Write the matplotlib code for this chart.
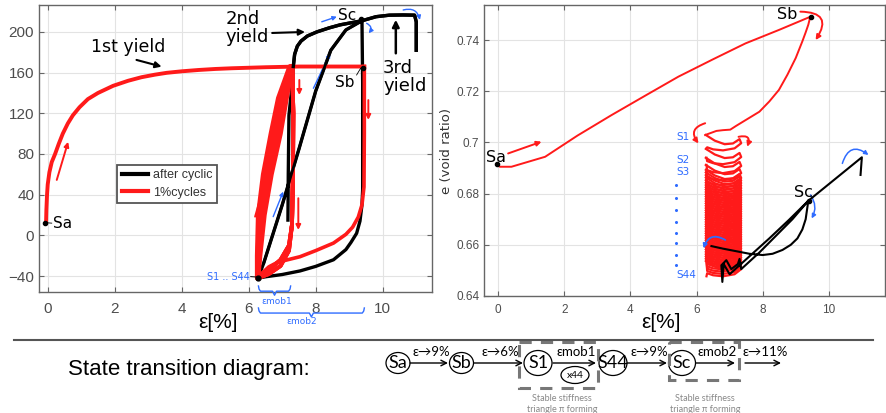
import numpy as np
import matplotlib.pyplot as plt
from matplotlib.patches import Ellipse, Rectangle

# ---------- left panel: deviator stress q vs axial strain ----------
first_eps = [-0.05, -0.04, -0.02, 0.0, 0.05, 0.12, 0.22, 0.33, 0.45, 0.6, 0.75, 0.95, 1.2, 1.5,
             1.95, 2.4, 2.8, 3.2, 3.55, 4.0, 4.5, 5.0, 5.5, 6.5, 7.5, 8.5, 9.45]
first_q = [12, 25, 40, 50, 62, 72, 80, 90, 100, 110, 118, 126, 134, 140,
           147, 152, 155.5, 158, 159.8, 161.3, 162.6, 163.6, 164.3, 165.3, 166, 166, 166]

unload_b_eps = [9.45, 9.45, 9.44, 9.38, 9.27, 9.1, 8.9, 8.53, 8.0, 7.53, 7.1, 6.83, 6.6, 6.4, 6.28]
unload_b_q = [166, 100, 47.6, 30, 18, 8, 1, -7.6, -15, -21, -24.5, -27, -31, -37, -42]

# 1% cycles: loading branches at fixed q levels, unloading branches
cyc_q_up = [-42, -20, 20, 60, 100, 135, 166]
cyc_eps_up = [
    [6.25, 6.25, 6.28, 6.43, 6.66, 6.88, 7.22],
    [6.26, 6.27, 6.31, 6.48, 6.72, 6.93, 7.24],
    [6.26, 6.28, 6.35, 6.53, 6.78, 6.98, 7.25],
    [6.27, 6.30, 6.39, 6.58, 6.84, 7.03, 7.27],
    [6.27, 6.32, 6.43, 6.63, 6.90, 7.08, 7.28],
    [6.28, 6.34, 6.47, 6.68, 6.95, 7.13, 7.30],
]
cyc_q_down = [
    [166, 120, 60, 10, -15, -30, -38, -42],
    [166, 120, 60, 10, -10, -24, -34, -42],
]
cyc_eps_down = [7.30, 7.33, 7.32, 7.29, 7.20, 6.95, 6.60, 6.27]

after_eps = [7.17, 7.18, 7.20, 7.30, 7.33, 7.37, 7.45, 7.56, 7.75, 8.03, 8.40, 8.73, 9.05, 9.38,
             9.40, 9.40, 9.38, 9.32, 9.22, 9.05, 8.90, 8.53, 8.00, 7.53, 7.00, 6.53, 6.28,
             6.45, 7.00, 7.50, 8.00, 8.45, 8.90, 9.38, 9.80, 10.2, 10.6, 10.95, 11.0, 11.0]
after_q = [15, 60, 118, 150, 166, 178, 186, 191, 196, 200, 204, 207, 209, 211,
           150, 45, 30, 14, 2, -7, -14, -24, -30.5, -35, -38.5, -40.6, -42,
           -27, 30, 85, 142, 182, 202, 211, 215, 216.5, 216.7, 216.5, 210, 182]

# ---------- right panel: void ratio e vs axial strain ----------
e_path_eps = [-0.05, 0.05, 0.4, 1.42, 2.4, 3.43, 4.45, 5.45, 6.5, 7.48, 8.5, 9.44,
              9.38, 9.3, 9.2, 9.0, 8.75, 8.49, 8.2, 7.9, 7.48, 7.2, 7.02, 6.8, 6.6, 6.26]
e_path = [0.6914, 0.6905, 0.6905, 0.6944, 0.7027, 0.7107, 0.7183, 0.7257, 0.7325, 0.7387, 0.7440, 0.7491,
          0.7460, 0.7430, 0.7395, 0.7330, 0.7265, 0.7205, 0.7160, 0.7120, 0.7087, 0.7065, 0.7050,
          0.7048, 0.7045, 0.7029]

# void ratio at the start of each of the 44 cycles
cycle_top_e = [0.7029, 0.6975, 0.6940, 0.6912,
               0.6893, 0.6883, 0.6873, 0.6863, 0.6853, 0.6843, 0.6834, 0.6825, 0.6816, 0.6807,
               0.6798, 0.6789, 0.6780, 0.6771, 0.6762, 0.6753, 0.6744, 0.6735, 0.6726, 0.6717,
               0.6708, 0.6699, 0.6690, 0.6681, 0.6672, 0.6663, 0.6654, 0.6645, 0.6636, 0.6627,
               0.6618, 0.6609, 0.6600, 0.6591, 0.6582, 0.6573, 0.6564, 0.6555, 0.6546, 0.6537]
cycle_eps = [6.28, 6.55, 6.85, 7.10, 7.30, 7.35, 7.15, 6.80, 6.50, 6.32]
cycle_de = [0.0, -0.0022, -0.0036, -0.0033, -0.0016, -0.0032, -0.0052, -0.0060, -0.0056, -0.0048]

after_e_eps = [6.45, 6.8, 7.2, 7.6, 8.0, 8.3, 8.6, 8.85, 9.05, 9.2, 9.3, 9.38, 8.8, 8.2, 7.6, 7.0,
               6.82, 6.78, 6.75, 6.9, 7.05, 7.25, 7.3, 7.35, 7.9, 8.4, 8.9, 9.38, 10.2, 11.0, 10.96]
after_e = [0.6595, 0.6585, 0.6575, 0.6565, 0.6560, 0.6565, 0.6580, 0.6600, 0.6625, 0.6660,
           0.6700, 0.6772, 0.6698, 0.6625, 0.6555, 0.6485, 0.6525, 0.6455, 0.6520, 0.6540,
           0.6505, 0.6525, 0.6545, 0.6505, 0.6570, 0.6635, 0.6700, 0.6772, 0.6858, 0.6942, 0.6873]

s_labels = ['S1', 'S2', 'S3', 'S44']
s_label_e = [0.7023, 0.6931, 0.6886, 0.6482]
s_dots_e = [0.6834, 0.6783, 0.6736, 0.6689, 0.6646, 0.6607, 0.6560, 0.6521]

RED = '#ff1a1a'
BLUE = '#2f6cff'
GRAY = '#4d4d4d'

fig = plt.figure(figsize=(8.86, 4.13), dpi=100)
W, H = 886.0, 413.0


def style_axes(ax, fs):
    ax.grid(True, color='#e3e3e3', lw=0.8)
    ax.set_axisbelow(True)
    for s in ax.spines.values():
        s.set_color('#666666')
        s.set_linewidth(1.0)
    ax.tick_params(direction='in', top=True, right=True, length=3.5, width=0.8,
                   color='#666666', labelcolor=GRAY, labelsize=fs)
    for lab in ax.get_xticklabels() + ax.get_yticklabels():
        lab.set_fontfamily('Liberation Sans')


def arrow(ax, p0, p1, color, lw=1.3, rad=0.0, style='-|>', ms=8, clip=True):
    a = ax.annotate('', xy=p1, xytext=p0,
                    arrowprops=dict(arrowstyle=style, color=color, lw=lw, mutation_scale=ms,
                                    shrinkA=0, shrinkB=0,
                                    connectionstyle='arc3,rad=%g' % rad))
    a.set_clip_on(clip)
    return a


# ================= left panel =================
ax1 = fig.add_axes([39 / W, 1 - 292 / H, 393 / W, 287 / H])
ax1.set_xlim(-0.26, 11.47)
ax1.set_ylim(-55.7, 226.5)
ax1.set_xticks([0, 2, 4, 6, 8, 10])
ax1.set_yticks([-40, 0, 40, 80, 120, 160, 200])
ax1.tick_params(axis='x', pad=7)
style_axes(ax1, 11)

ax1.plot(after_eps, after_q, color='black', lw=2.4, zorder=3, label='after cyclic')
ax1.plot(first_eps, first_q, color=RED, lw=2.8, zorder=4, label='1%cycles')
ax1.plot(unload_b_eps, unload_b_q, color=RED, lw=2.6, zorder=4)
# the loading branches of the cycles overlap into a solid band
ax1.fill_betweenx(cyc_q_up, cyc_eps_up[0], cyc_eps_up[-1], color=RED, lw=0, zorder=4)
for k, up in enumerate(cyc_eps_up):
    ax1.plot(up, cyc_q_up, color=RED, lw=3.2, zorder=4, solid_capstyle='round',
             solid_joinstyle='round')
    ax1.plot(cyc_eps_down, cyc_q_down[k % 2], color=RED, lw=2.8, zorder=4, solid_joinstyle='round')
# the black reload and yield branches stay visible over the cycles
ax1.plot(after_eps[27:34], after_q[27:34], color='black', lw=2.0, zorder=5)
ax1.plot(after_eps[4:14], after_q[4:14], color='black', lw=2.4, zorder=5)
ax1.plot(after_eps[33:], after_q[33:], color='black', lw=2.4, zorder=5)

leg = ax1.legend(loc='lower left', bbox_to_anchor=(0.199, 0.31), fancybox=False,
                 framealpha=1, edgecolor='#555555', handlelength=2.1, borderpad=0.35,
                 labelspacing=0.45, handletextpad=0.4, borderaxespad=0,
                 prop={'family': 'Liberation Sans', 'size': 9})
leg.get_frame().set_linewidth(1.3)
for t in leg.get_texts():
    t.set_color('#333333')
for h in leg.legend_handles:
    h.set_linewidth(3)

# text annotations
ax1.text(2.4, 185, '1st yield', fontsize=12.5, ha='center', va='center', zorder=6)
arrow(ax1, (2.65, 172.5), (3.40, 165.9), 'black', lw=1.5, ms=9)
ax1.text(5.30, 204, '2nd\nyield', fontsize=13, ha='left', va='center', linespacing=1.0, zorder=6)
arrow(ax1, (6.70, 199), (7.68, 200), 'black', lw=1.5, ms=9)
ax1.text(10.01, 156, '3rd\nyield', fontsize=13, ha='left', va='center', linespacing=1.0, zorder=6)
arrow(ax1, (10.39, 179), (10.39, 212), 'black', lw=1.8, ms=10)
ax1.text(8.95, 216.5, 'Sc', fontsize=11, ha='center', va='center', zorder=6)
ax1.plot([9.36], [213], 'ko', ms=3, zorder=7)
ax1.text(8.87, 150.3, 'Sb', fontsize=11, ha='center', va='center', zorder=6)
ax1.plot([9.22, 9.34], [157.7, 164.3], color='black', lw=0.6, zorder=6)
ax1.plot([9.40], [165], 'ko', ms=3, zorder=7)
ax1.text(0.16, 11.5, 'Sa', fontsize=11, ha='left', va='center', zorder=6)
ax1.plot([-0.08, 0.12], [12.5, 12.0], color='black', lw=0.6, zorder=6)
ax1.plot([-0.08], [12.5], 'ko', ms=3, zorder=7)
ax1.text(6.04, -40.6, 'S1 .. S44', fontsize=7, color=BLUE, ha='right', va='center', zorder=6)
ax1.plot([6.06, 6.25], [-40.6, -41], color='black', lw=0.7, zorder=6)
ax1.plot([6.28], [-41.5], 'ko', ms=3.5, zorder=7)

# direction arrows
for p0, p1 in [((0.27, 54.5), (0.61, 92)), ((6.19, 18.4), (6.54, 59.4)),
               ((7.51, 152.8), (7.51, 138)), ((9.57, 133), (9.57, 113.5)),
               ((7.48, 36.5), (7.48, 5.3))]:
    arrow(ax1, p0, p1, RED, lw=1.4, ms=7)
for p0, p1 in [((7.93, 144.6), (8.43, 179)), ((6.73, 18.4), (7.03, 43)), ((8.18, 210), (8.63, 215))]:
    arrow(ax1, p0, p1, BLUE, lw=1.0, ms=6)
arrow(ax1, (9.52, 208.5), (9.58, 198.7), BLUE, lw=1.0, rad=-0.6, ms=6)
arrow(ax1, (10.61, 221.6), (11.11, 211.8), BLUE, lw=1.0, rad=-0.5, ms=6)


def brace(ax, x0, x1, ytop, ymid, ytip, color):
    xm = 0.5 * (x0 + x1)
    w = 0.06
    ax.plot([x0, x0 + w * 0.3, x0 + w, xm - w, xm, xm + w, x1 - w, x1 - w * 0.3, x1],
            [ytop, ymid + 0.4 * (ytop - ymid), ymid, ymid, ytip, ymid, ymid,
             ymid + 0.4 * (ytop - ymid), ytop],
            color=color, lw=1.0, clip_on=False, zorder=6)


brace(ax1, 6.29, 7.25, -49.8, -54.9, -58.9, BLUE)
brace(ax1, 6.29, 9.45, -71.4, -76.4, -80.2, BLUE)
ax1.text(6.84, -65.2, 'εmob1', fontsize=6.5, color=BLUE, ha='center', va='center', clip_on=False)
ax1.text(7.58, -84.9, 'εmob2', fontsize=6.5, color=BLUE, ha='center', va='center', clip_on=False)

# ================= right panel =================
ax2 = fig.add_axes([484 / W, 1 - 296 / H, 401 / W, 291 / H])
ax2.set_xlim(-0.43, 11.7)
ax2.set_ylim(0.64, 0.7537)
ax2.set_xticks([0, 2, 4, 6, 8, 10])
ax2.set_yticks([0.64, 0.66, 0.68, 0.70, 0.72, 0.74])
ax2.set_yticklabels(['0.64', '0.66', '0.68', '0.7', '0.72', '0.74'])
ax2.tick_params(axis='x', pad=6)
style_axes(ax2, 8.5)
ax2.set_ylabel('e (void ratio)', fontsize=9.5, color='#333333', labelpad=2)

ax2.plot(e_path_eps, e_path, color=RED, lw=1.4, zorder=3)
for i, top in enumerate(cycle_top_e):
    nxt = cycle_top_e[i + 1] if i + 1 < len(cycle_top_e) else top - 0.006
    xs = cycle_eps + [cycle_eps[0] + 0.02]
    ys = [top + d for d in cycle_de] + [nxt]
    ax2.plot(xs, ys, color=RED, lw=1.6, zorder=3, solid_joinstyle='round')
ax2.plot(after_e_eps, after_e, color='black', lw=1.5, zorder=4)

ax2.text(-0.07, 0.6943, 'Sa', fontsize=11.5, ha='center', va='center', zorder=6)
ax2.plot([-0.05], [0.6914], 'ko', ms=3, zorder=7)
arrow(ax2, (0.30, 0.6957), (1.31, 0.7003), RED, lw=1.4, ms=7)
ax2.text(8.74, 0.7498, 'Sb', fontsize=11.5, ha='center', va='center', zorder=6)
ax2.plot([9.45], [0.7491], 'ko', ms=3, zorder=7)
arrow(ax2, (9.14, 0.7511), (9.60, 0.7400), RED, lw=1.4, rad=-0.9, ms=7)
arrow(ax2, (6.26, 0.7075), (6.06, 0.6996), RED, lw=1.4, rad=0.7, ms=7)
arrow(ax2, (7.27, 0.7022), (7.53, 0.6983), RED, lw=1.4, rad=-0.9, ms=7)
ax2.text(9.22, 0.6804, 'Sc', fontsize=11.5, ha='center', va='center', zorder=6)
ax2.plot([9.39], [0.6772], 'ko', ms=3, zorder=7)
arrow(ax2, (9.45, 0.6795), (9.48, 0.6703), BLUE, lw=1.1, rad=-0.3, ms=6)
arrow(ax2, (10.41, 0.6918), (11.20, 0.6951), BLUE, lw=1.1, rad=-0.7, ms=6)
arrow(ax2, (6.87, 0.6619), (6.21, 0.6586), BLUE, lw=1.3, rad=0.6, ms=6)

for lab, ev in zip(s_labels, s_label_e):
    ax2.text(5.38, ev, lab, fontsize=7.5, color=BLUE, ha='left', va='center')
ax2.plot([5.38] * len(s_dots_e), s_dots_e, 'o', color=BLUE, ms=1.2)

# axis labels
fig.text(218 / W, 1 - 323 / H, 'ε[%]', fontsize=15, ha='center', va='center', family='Liberation Sans')
fig.text(661 / W, 1 - 323 / H, 'ε[%]', fontsize=15, ha='center', va='center', family='Liberation Sans')

# ================= state transition diagram =================
axd = fig.add_axes([0, 0, 1, 1])
axd.set_xlim(0, W)
axd.set_ylim(H, 0)
axd.axis('off')
axd.patch.set_alpha(0)

axd.plot([14, 873], [340, 340], color='#555555', lw=1.5)
axd.text(68, 369, 'State transition diagram:', fontsize=16, family='Liberation Sans',
         ha='left', va='center')

states = ['Sa', 'Sb', 'S1', 'S44', 'Sc']
state_x = [398, 461.5, 538, 613, 682]
state_w = [24, 24, 28, 28, 27]
state_h = [21, 21, 25, 25, 25]
for name, x, w, h in zip(states, state_x, state_w, state_h):
    axd.add_patch(Ellipse((x, 363), w, h, fill=False, ec='black', lw=0.9))
    axd.text(x, 363.5, name, fontsize=13, family='Lato', ha='center', va='center')

trans_x0 = [410, 474, 553, 627, 696, 745]
trans_x1 = [448, 523, 596, 667, 735, 781]
trans_lab = ['ε→9%', 'ε→6%', 'εmob1', 'ε→9%', 'εmob2', 'ε→11%']
for x0, x1, lab in zip(trans_x0, trans_x1, trans_lab):
    axd.annotate('', xy=(x1, 363), xytext=(x0, 363),
                 arrowprops=dict(arrowstyle='->', color='black', lw=1.0, mutation_scale=10,
                                 shrinkA=0, shrinkB=0))
    axd.text(0.5 * (x0 + x1) + 2, 352, lab, fontsize=9.5, family='Lato', ha='center', va='center')

axd.add_patch(Ellipse((575, 375), 28, 17, fill=False, ec='black', lw=0.9))
axd.text(575, 375.5, 'x44', fontsize=7.5, family='Lato', ha='center', va='center')

for (x0, y0, x1, y1) in [(519, 342, 598, 388), (669, 342, 739, 380)]:
    axd.add_patch(Rectangle((x0, y0), x1 - x0, y1 - y0, fill=False, ec='#777777', lw=2.2,
                            ls=(0, (4, 3))))
for xc in [562, 705]:
    axd.text(xc, 404, 'Stable stiffness\ntriangle π forming', fontsize=6.5, color='#888888',
             ha='center', va='center', linespacing=1.25, family='Lato')

fig.savefig('out.png', dpi=100)
